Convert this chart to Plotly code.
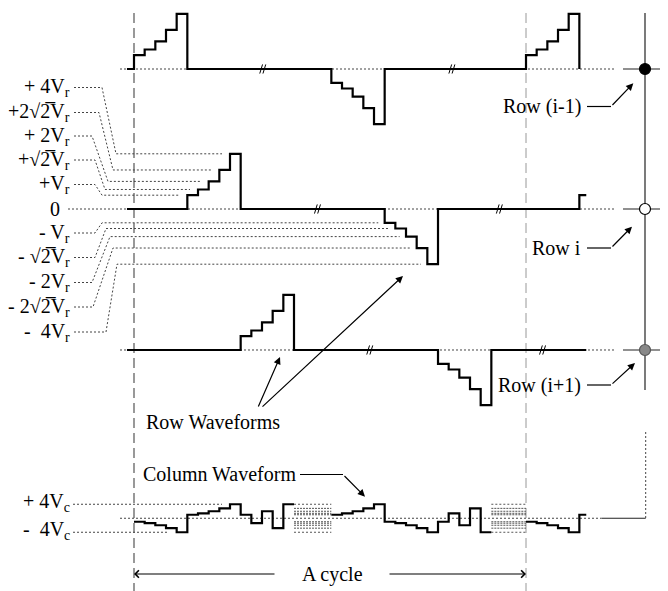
import numpy as np
import plotly.graph_objects as go

R2 = float(np.sqrt(2))

# ---------------- data ----------------
LEVELS = [1, R2, 2, 2 * R2, 4]                 # staircase levels (Vr / Vc units)
ROW_NAMES = ["Row (i-1)", "Row i", "Row (i+1)"]
POS_START = [0, 5, 10]                          # start of positive pulse (time slots)
NEG_START = [18.5, 23.5, 28.5]                  # start of negative pulse (time slots)
CYCLE = 36.75                                   # cycle length (time slots)
ROW_BEGIN = -0.66
ROW_END = [41.75, 42.4, 42.4]
ROW_BREAKS = [[12.07, 29.8], [17.2, 34.25], [22.1, 38.3]]

COL_SEGMENTS = [
    (0.0, [-1, -R2, -2, -2 * R2, -4]),
    (5.0, [1, R2, 2, 2 * R2, 4]),
    (10.0, [1, -R2, 2, -2 * R2, 4]),
    (18.5, [1, R2, 2, 2 * R2, 4]),
    (23.5, [-1, -R2, -2, -2 * R2, -4]),
    (28.5, [-1, R2, -2, 2 * R2, -4]),
    (36.75, [-1, -R2, -2, -2 * R2, -4]),
    (41.75, [1]),
]
COL_PARTS = [(0.0, 15.0), (18.5, 33.5), (36.75, 42.4)]
HATCH = [(15.0, 18.5), (33.5, 36.75)]

SQ = "\u221a2\u0305"
LEVEL_LABELS = ["+ 4V<sub>r</sub>", "+2" + SQ + "V<sub>r</sub>", "+ 2V<sub>r</sub>",
                "+" + SQ + "V<sub>r</sub>", "+V<sub>r</sub>", "0",
                "- V<sub>r</sub>", "- " + SQ + "V<sub>r</sub>", "- 2V<sub>r</sub>",
                "- 2" + SQ + "V<sub>r</sub>", "-  4V<sub>r</sub>"]
LEVEL_VALUES = [4, 2 * R2, 2, R2, 1, 0, -1, -R2, -2, -2 * R2, -4]

# ---------------- layout constants ----------------
W, H = 668, 591
PAGE_MARGIN = 8            # default body margin of the html page
X0, PX_STEP = 134.0, 10.667
Y0, PX_VR = 209.0, 13.8
ROW_BASE = [10.145, 0.0, -10.217]
COL_BASE = -22.41
VC = 0.2536


def T(px):
    return (px - X0) / PX_STEP


def V(py):
    return (Y0 - py) / PX_VR


FONT = "Liberation Serif, Times New Roman, serif"
FS = 20
DOT = "2px,2px"

fig = go.Figure()


def line(xs, ys, color="black", width=1.0, dash=None, shape="linear"):
    fig.add_trace(go.Scatter(x=xs, y=ys, mode="lines", hoverinfo="skip",
                             line=dict(color=color, width=width, dash=dash, shape=shape)))


def txt(x, y, s, anchor="center"):
    fig.add_annotation(x=x, y=y, text=s, showarrow=False, xanchor=anchor, yanchor="middle",
                       font=dict(family=FONT, size=FS, color="black"))


def arrow(head, tail, style=2):
    fig.add_annotation(x=head[0], y=head[1], ax=tail[0], ay=tail[1], xref="x", yref="y",
                       axref="x", ayref="y", text="", showarrow=True, arrowhead=style,
                       arrowsize=1.2, arrowwidth=1.2, arrowcolor="black", standoff=0)


# dashed cycle boundaries
line([0, 0], [V(13), V(H)], color="#555", width=1.2, dash="10px,5px")
line([CYCLE, CYCLE], [V(13), V(H)], color="#aaa", width=1.2, dash="10px,5px")

# right-hand column conductor
line([T(645), T(645)], [V(13), V(390)], color="#222", width=1.2)
line([T(645.7), T(645.7)], [V(432), COL_BASE], color="#444", width=1, dash=DOT)
line([T(601.7), T(645.7)], [COL_BASE, COL_BASE], color="#222", width=1.2)

# row baselines (dotted) and node stubs
for r in range(3):
    start = T(68) if r == 1 else T(120)
    line([start, T(614)], [ROW_BASE[r]] * 2, color="#444", width=1, dash=DOT)
    line([T(623), T(668)], [ROW_BASE[r]] * 2, color="#222", width=1.2)

# level leader lines
KNEE_PX = [102, 99, 92, 95, 95, None, 95, 95, 92, 93, 106]
JOIN_PX = [116, 113, 108, 105, 102, None, 102, 106, 110, 113, 117]
LABEL_Y_PX = [87.5, 112.5, 136, 160, 184.5, 209, 233, 257.5, 282.5, 307, 332]
for k, (lab, val) in enumerate(zip(LEVEL_LABELS, LEVEL_VALUES)):
    ly = V(LABEL_Y_PX[k])
    if val == 0:
        txt(T(62), ly, lab, "right")
        continue
    j = LEVELS.index(abs(val))
    end_t = (POS_START[1] + j - 0.75) if val > 0 else (NEG_START[1] + j - 0.6)
    line([T(74), T(KNEE_PX[k]), T(JOIN_PX[k]), end_t], [ly, ly, val, val],
         color="#444", width=1, dash=DOT)
    txt(T(72), ly, lab, "right")

# column leader lines and hatched regions
line([T(73), T(222)], [COL_BASE + 4 * VC] * 2, color="#444", width=1, dash=DOT)
line([T(73), T(167)], [COL_BASE - 4 * VC] * 2, color="#444", width=1, dash=DOT)
line([T(120), T(601.7)], [COL_BASE] * 2, color="#444", width=1, dash=DOT)
for a, b in HATCH:
    for L in LEVELS:
        for s in (1, -1):
            line([a, b], [COL_BASE + s * L * VC] * 2, color="#555", width=1,
                 dash=("2px,1px" if L < 4 else DOT))

# row waveforms
for r in range(3):
    events = []
    for k in range(2):
        for s0, sign in ((POS_START[r], 1), (NEG_START[r], -1)):
            t0 = s0 + k * CYCLE
            for j, L in enumerate(LEVELS):
                events.append((t0 + j, sign * L))
            events.append((t0 + len(LEVELS), 0))
    events = sorted(e for e in events if e[0] <= ROW_END[r] + 1e-9)
    xs, ys = [ROW_BEGIN], [0]
    for t, v in events:
        xs.append(t)
        ys.append(v)
    if xs[-1] < ROW_END[r]:
        xs.append(ROW_END[r])
        ys.append(ys[-1])
    line(xs, [ROW_BASE[r] + v for v in ys], width=2.2, shape="hv")
    # break marks
    for bt in ROW_BREAKS[r]:
        for off in (-0.15, 0.15):
            line([bt + off - 0.13, bt + off + 0.13],
                 [ROW_BASE[r] - 0.33, ROW_BASE[r] + 0.33], width=1)

# column waveform
for a, b in COL_PARTS:
    xs, ys = [], []
    for s0, vals in COL_SEGMENTS:
        for j, v in enumerate(vals):
            t = s0 + j
            if a - 1e-9 <= t < b - 1e-9:
                xs.append(t)
                ys.append(v)
    xs.append(b)
    ys.append(ys[-1])
    line(xs, [COL_BASE + v * VC for v in ys], width=2.2, shape="hv")

# nodes
NODE_FILL = ["black", "white", "#888"]
fig.add_trace(go.Scatter(x=[T(645)] * 3, y=ROW_BASE, mode="markers", hoverinfo="skip",
                         marker=dict(size=11, color=NODE_FILL,
                                     line=dict(color=["black", "black", "#555"], width=1.2))))

# row labels and pointers
ROW_LABEL_Y = [106.5, 248, 385]
ROW_HEAD = [(633.3, 83.3), (632, 226.7), (635, 363)]
for r, name in enumerate(ROW_NAMES):
    y = ROW_LABEL_Y[r]
    txt(T(583), V(y), name, "right")
    line([T(587), T(611)], [V(y), V(y)], width=1.2)
    hx, hy = ROW_HEAD[r]
    arrow((T(hx), V(hy)), (T(611), V(y)))

# Row Waveforms
txt(T(212.5), V(421.5), "Row Waveforms")
arrow((T(280), V(357)), (T(257.7), V(408)))
arrow((T(403), V(276)), (T(261), V(408)))

# Column Waveform
txt(T(219), V(473.5), "Column Waveform")
line([T(300), T(343)], [V(474.5), V(474.5)], width=1.2)
arrow((T(365), V(496.7)), (T(343), V(474.5)))

# column level labels
txt(T(72), COL_BASE + 4 * VC + 0.1, "+ 4V<sub>c</sub>", "right")
txt(T(72), COL_BASE - 4 * VC + 0.1, "-  4V<sub>c</sub>", "right")

# A cycle
txt(CYCLE / 2 + T(332.5) - CYCLE / 2, V(574), "A cycle")
arrow((0, V(574)), (T(276), V(574)), 4)
arrow((CYCLE, V(574)), (T(388), V(574)), 4)

fig.update_layout(
    width=W - PAGE_MARGIN, height=H - PAGE_MARGIN, margin=dict(l=0, r=0, t=0, b=0),
    paper_bgcolor="white", plot_bgcolor="white", showlegend=False,
    xaxis=dict(range=[T(PAGE_MARGIN), T(W)], visible=False, fixedrange=True),
    yaxis=dict(range=[V(H), V(PAGE_MARGIN)], visible=False, fixedrange=True),
)
fig.write_html("out.html")
